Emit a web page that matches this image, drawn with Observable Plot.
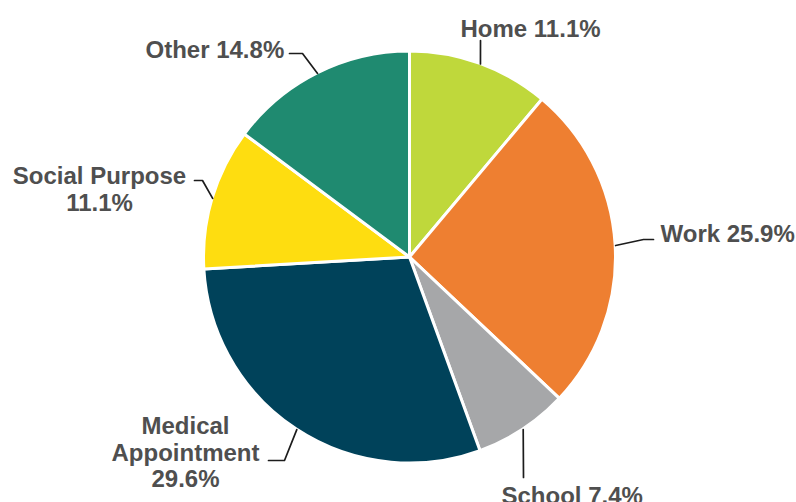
<!DOCTYPE html>
<html><head><meta charset="utf-8">
<script src="https://cdn.jsdelivr.net/npm/d3@7"></script>
<script src="https://cdn.jsdelivr.net/npm/@observablehq/plot@0.6"></script>
<style>body{margin:0;background:#fff;}</style>
</head><body><div id="chart"></div>
<script>
// ---- data ----
const categories = ["Home", "Work", "School", "Medical Appointment", "Social Purpose", "Other"];
const shares = [11.1, 25.9, 7.4, 29.6, 11.1, 14.8];
const colors = ["#BFD83B", "#EE7F31", "#A6A7A9", "#00425A", "#FEDD10", "#1F8A70"];
const labelTexts = ["Home 11.1%", "Work 25.9%", "School 7.4%", "Medical\nAppointment\n29.6%", "Social Purpose\n11.1%", "Other 14.8%"];

// ---- layout ----
const W = 796, H = 502, CX = 409.5, CY = 257, R = 206;
const labelLayout = [
  {x: 460, y: 18, anchor: "start", elbows: [[480, 40]]},
  {x: 660, y: 223, anchor: "start", elbows: [[643, 239], [653, 239]]},
  {x: 501, y: 485, anchor: "start", elbows: [[523, 477]]},
  {x: 185, y: 415, anchor: "middle", elbows: [[284, 460], [268, 460]]},
  {x: 99, y: 165, anchor: "middle", elbows: [[202, 180], [194, 180]]},
  {x: 145, y: 39, anchor: "start", elbows: [[302, 53], [289, 53]]}
];

const colorScale = Plot.scale({color: {type: "ordinal", domain: categories, range: colors}});
const arcs = d3.pie().sort(null).value(d => d)(shares);

const labels = categories.map((c, i) => ({
  category: c, text: labelTexts[i], x: labelLayout[i].x, y: labelLayout[i].y, anchor: labelLayout[i].anchor
}));

const leaders = [];
arcs.forEach((a, i) => {
  const m = (a.startAngle + a.endAngle) / 2;
  leaders.push({category: categories[i], x: CX + R * Math.sin(m), y: CY - R * Math.cos(m)});
  for (const [ex, ey] of labelLayout[i].elbows) leaders.push({category: categories[i], x: ex, y: ey});
});

const pieMark = (index, scales, values, dims, context) => {
  const g = d3.create("svg:g")
    .attr("transform", `translate(${scales.x(CX)},${scales.y(CY)})`);
  const arc = d3.arc().innerRadius(0).outerRadius(R);
  g.selectAll("path").data(arcs).join("path")
    .attr("d", arc)
    .attr("fill", (d, i) => colorScale.apply(categories[i]))
    .attr("stroke", "#fff")
    .attr("stroke-width", 3)
    .attr("stroke-linejoin", "round");
  return g.node();
};

const textOpts = {x: "x", y: "y", text: "text", lineAnchor: "top", fontSize: 24, fontWeight: "bold",
  fill: "#4f4f4f", fontFamily: "Liberation Sans, Arial, sans-serif", lineHeight: 1.1};

const chart = Plot.plot({
  width: W, height: H,
  margin: 0,
  x: {domain: [0, W], range: [0, W], axis: null},
  y: {domain: [0, H], range: [0, H], axis: null},
  style: {fontFamily: "Liberation Sans, Arial, sans-serif", background: "#fff"},
  marks: [
    pieMark,
    Plot.line(leaders, {x: "x", y: "y", z: "category", stroke: "#1c1c1c", strokeWidth: 1.7}),
    Plot.text(labels.filter(d => d.anchor === "start"), {...textOpts, textAnchor: "start"}),
    Plot.text(labels.filter(d => d.anchor === "middle"), {...textOpts, textAnchor: "middle"})
  ]
});
document.getElementById("chart").appendChild(chart);
</script>
</body></html>
